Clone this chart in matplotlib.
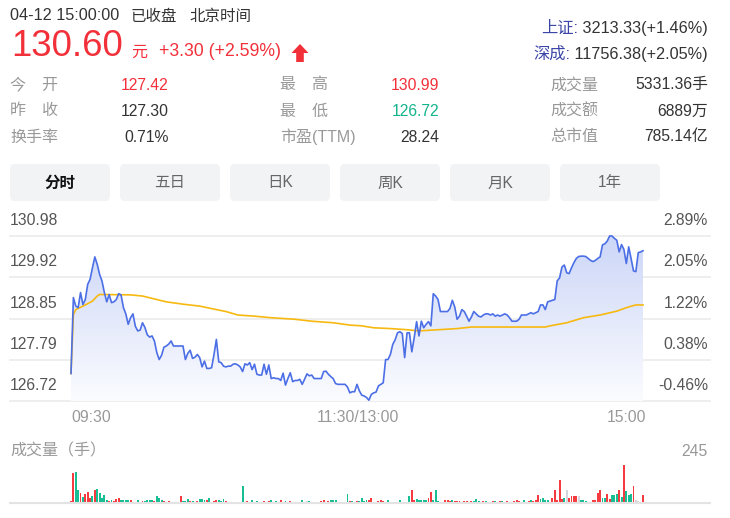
import numpy as np
import matplotlib
matplotlib.use("Agg")
import matplotlib.pyplot as plt
from matplotlib.patches import FancyBboxPatch, Polygon, PathPatch

plt.rcParams['font.family'] = ['Liberation Sans', 'Noto Sans CJK SC']

# ---------------- data ----------------
prev_close = 127.30
prices = [
    127.43, 129.39, 129.17, 129.13, 129.52, 129.21, 129.34, 129.73, 129.86, 130.16,
    130.44, 130.25, 129.99, 129.82, 129.52, 129.28, 129.47, 129.26, 129.28, 129.34,
    129.49, 129.46, 129.13, 128.97, 128.70, 128.87, 128.97, 128.65, 128.53, 128.55,
    128.74, 128.62, 128.43, 128.37, 128.40, 128.27, 127.97, 127.79, 127.90, 128.11,
    128.14, 128.19, 128.27, 128.14, 128.14, 128.14, 128.14, 128.14, 127.79, 127.95,
    128.03, 127.82, 127.85, 127.92, 127.84, 127.60, 127.75, 127.56, 127.56, 127.58,
    127.92, 128.31, 127.73, 127.71, 127.62, 127.60, 127.62, 127.62, 127.67, 127.68,
    127.65, 127.60, 127.48, 127.68, 127.65, 127.71, 127.53, 127.67, 127.41, 127.39,
    127.39, 127.67, 127.41, 127.65, 127.30, 127.32, 127.30, 127.30, 127.25, 127.44,
    127.13, 127.30, 127.45, 127.22, 127.25, 127.25, 127.28, 127.15, 127.28, 127.42,
    127.37, 127.39, 127.30, 127.30, 127.30, 127.30, 127.48, 127.49, 127.41, 127.35,
    127.30, 127.17, 127.15, 127.15, 127.15, 127.15, 127.08, 126.93, 126.96, 126.96,
    127.15, 126.98, 126.87, 126.85, 126.81, 126.74, 126.89, 126.93, 126.95, 127.11,
    127.15, 127.19, 127.79, 127.79, 127.92, 128.18, 128.30, 128.48, 128.51, 128.46,
    127.84, 128.48, 128.48, 127.99, 128.35, 128.77, 128.40, 128.78, 128.61, 128.70,
    128.77, 128.66, 129.49, 129.43, 129.34, 129.03, 129.03, 129.03, 129.03, 129.11,
    129.32, 129.15, 128.83, 128.91, 129.08, 129.03, 128.91, 128.78, 128.89, 129.03,
    128.97, 128.91, 128.89, 128.94, 128.97, 128.97, 128.94, 128.97, 128.91, 128.94,
    128.91, 128.94, 128.97, 128.94, 128.87, 128.78, 128.78, 128.78, 128.83, 128.94,
    128.94, 128.94, 128.97, 129.00, 128.97, 129.00, 129.03, 129.20, 129.20, 129.08,
    129.28, 129.30, 129.32, 129.34, 129.82, 129.90, 130.18, 130.23, 130.03, 130.01,
    130.16, 130.29, 130.40, 130.45, 130.46, 130.46, 130.45, 130.40, 130.35, 130.32,
    130.35, 130.40, 130.44, 130.75, 130.78, 130.85, 130.98, 130.98, 130.92, 130.87,
    130.57, 130.76, 130.63, 130.27, 130.70, 130.40, 130.08, 130.06, 130.55, 130.57,
    130.60,
]

avg_minutes = [0, 1, 2, 6, 9, 11, 12, 25, 30, 34, 40, 47, 54, 61, 65, 70, 77, 84, 94,
               101, 110, 117, 122, 127, 134, 141, 146, 154, 162, 168, 199, 201, 208,
               215, 222, 229, 234, 237, 240]
avg_prices = [127.43, 128.95, 129.08, 129.20, 129.30, 129.43, 129.47, 129.46, 129.43,
              129.37, 129.28, 129.22, 129.17, 129.08, 129.03, 128.94, 128.91, 128.87,
              128.83, 128.78, 128.74, 128.68, 128.66, 128.61, 128.59, 128.56, 128.53,
              128.56, 128.59, 128.63, 128.63, 128.66, 128.74, 128.87, 128.94, 129.04,
              129.15, 129.20, 129.20]

volumes = [
    13, 193, 200, 84, 65, 39, 58, 71, 32, 45,
    84, 90, 65, 32, 52, 19, 13, 19, 13, 26,
    32, 19, 19, 19, 19, 19, 6, 6, 19, 6,
    13, 13, 19, 19, 19, 13, 45, 32, 19, 13,
    6, 13, 6, 6, 6, 6, 45, 13, 13, 26,
    13, 13, 6, 13, 26, 26, 19, 19, 32, 6,
    13, 19, 19, 13, 26, 13, 6, 6, 6, 6,
    6, 6, 110, 6, 13, 6, 19, 6, 13, 6,
    6, 13, 6, 13, 19, 6, 13, 6, 19, 6,
    13, 6, 13, 6, 6, 6, 6, 19, 6, 13,
    13, 6, 6, 6, 6, 13, 19, 6, 13, 19,
    19, 19, 6, 6, 6, 6, 58, 13, 13, 6,
    13, 13, 32, 13, 19, 19, 32, 6, 6, 13,
    19, 13, 6, 19, 6, 6, 6, 6, 19, 6,
    6, 6, 45, 84, 19, 26, 19, 19, 19, 19,
    32, 71, 19, 84, 13, 6, 6, 19, 19, 13,
    19, 13, 13, 13, 6, 13, 13, 6, 13, 13,
    26, 13, 6, 13, 13, 6, 6, 13, 13, 6,
    13, 13, 6, 13, 6, 6, 13, 19, 13, 6,
    19, 6, 13, 19, 13, 19, 52, 26, 32, 19,
    19, 6, 32, 84, 19, 148, 26, 32, 84, 32,
    45, 45, 45, 45, 19, 19, 13, 6, 6, 19,
    19, 65, 84, 32, 32, 58, 26, 52, 52, 58,
    84, 39, 245, 77, 52, 58, 110, 19, 13, 6,
    52,
]
vol_side = list(
    "rrggrgrrrg" "rgggggrgrr" "rggggrrggr" "rggggrgggr" "rrrgnrrggg"
    "rgrrgggrgr" "rrgggrgrrg" "rggrrggrgg" "rrgrgrgrrr" "grrggrgggn"
    "gggnrrrgrg" "gggrgngrgr" "rggggrrrrr" "rrrgrrrrgr" "rrgrrggggg"
    "rrggggrrrr" "grrrgrrgrg" "ggrrgrrrgr" "rgrrgrrrrr" "grrgrrrggg"
    "grrrrrrgnr" "rrrnggggrr" "rrrggrrggg" "rgrgggrnnn" "r"
)
price_ticks = [130.98, 129.92, 128.85, 127.79, 126.72]
pct_ticks = ["2.89%", "2.05%", "1.22%", "0.38%", "-0.46%"]
time_labels = ["09:30", "11:30/13:00", "15:00"]
vol_max = 245
tabs = ["分时", "五日", "日K", "周K", "月K", "1年"]

stats_col1 = [("今\u3000开", "127.42", "up"), ("昨\u3000收", "127.30", "flat"), ("换手率", "0.71%", "flat")]
stats_col2 = [("最\u3000高", "130.99", "up"), ("最\u3000低", "126.72", "down"), ("市盈(TTM)", "28.24", "flat")]
stats_col3 = [("成交量", "5331.36手"), ("成交额", "6889万"), ("总市值", "785.14亿")]
indices = [("上证:", " 3213.33(+1.46%)"), ("深成:", " 11756.38(+2.05%)")]

# ---------------- styling ----------------
RED = "#f2303a"
GREEN = "#13b48c"
DARK = "#333333"
GRAY = "#999999"
BLUE_LINE = "#4c6fe6"
AVG_LINE = "#f7b910"
GRID = "#ebebeb"
side_colors = {"r": "#f53b3f", "g": "#17bd93", "n": "#d3d6dc"}

W, H = 730, 518
fig = plt.figure(figsize=(W / 100, H / 100), dpi=100)
fig.patch.set_facecolor("white")

bg = fig.add_axes([0, 0, 1, 1])
bg.set_xlim(0, W)
bg.set_ylim(H, 0)
bg.axis("off")


def T(x, y, s, px, color, ha="left", va="center", weight="normal", **kw):
    return bg.text(x, y, s, fontsize=px * 0.72, color=color, ha=ha, va=va,
                   fontweight=weight, **kw)


# header
T(10, 16, "04-12 15:00:00", 16.3, DARK)
T(131, 16, "已收盘", 15.5, DARK)
T(189, 16, "北京时间", 15.5, DARK)
T(11, 46, "130.60", 36.5, RED)
T(131, 52, "元", 16, RED)
T(159, 51, "+3.30 (+2.59%)", 17.6, RED)
bg.add_patch(Polygon([(300, 44), (308.5, 53), (303.8, 53), (303.8, 62),
                      (296.2, 62), (296.2, 53), (291.5, 53)], closed=True,
                     facecolor=RED, edgecolor="none"))

renderer = fig.canvas.get_renderer()
for i, (name, val) in enumerate(indices):
    yy = 28 + i * 26
    t = T(708, yy, val, 16.3, DARK, ha="right")
    bb = t.get_window_extent(renderer)
    T(bb.x0, yy, name, 16.3, "#3b45a6", ha="right")

rows_y = [85, 111, 137]
cmap = {"up": RED, "down": GREEN, "flat": DARK}
for i, (lab, val, st) in enumerate(stats_col1):
    T(10, rows_y[i], lab, 16, GRAY)
    T(169, rows_y[i], val, 15.8, cmap[st], ha="right")
for i, (lab, val, st) in enumerate(stats_col2):
    T(280, rows_y[i], lab, 16, GRAY)
    T(439, rows_y[i], val, 15.8, cmap[st], ha="right")
for i, (lab, val) in enumerate(stats_col3):
    T(550, rows_y[i], lab, 16, GRAY)
    T(708, rows_y[i], val, 15.8, DARK, ha="right")

# tabs
for i, name in enumerate(tabs):
    x0 = 10 + i * 110
    bg.add_patch(FancyBboxPatch((x0, 164), 100, 37,
                                boxstyle="round,pad=0,rounding_size=5",
                                facecolor="#f2f3f5", edgecolor="none"))
    if i == 0:
        T(x0 + 50, 183, name, 15.5, "#111111", ha="center", weight="bold")
    else:
        T(x0 + 50, 183, name, 15.5, "#666666", ha="center")

# ---------------- price chart ----------------
X0, X1 = 71, 643
n_span = 240
ppm = (X1 - X0) / n_span
xlim = (-(X0 - 10) / ppm, n_span + (710 - X1) / ppm)
minutes = np.arange(len(prices))

ax = fig.add_axes([10 / W, 1 - 401 / H, 700 / W, 165 / H])
ax.set_xlim(*xlim)
ax.set_ylim(price_ticks[-1], price_ticks[0])
ax.axis("off")

for p, lab, pl in zip(price_ticks, [f"{v:.2f}" for v in price_ticks], pct_ticks):
    ax.axhline(p, color=GRID, lw=1.2, zorder=0, clip_on=False)
    ax.annotate(lab, xy=(0, p), xycoords=("axes fraction", "data"),
                xytext=(0, 15.5 * 0.72), textcoords="offset points",
                ha="left", va="center", fontsize=15.8 * 0.72, color="#555555")
    ax.annotate(pl, xy=(1, p), xycoords=("axes fraction", "data"),
                xytext=(-2 * 0.72, 15.5 * 0.72), textcoords="offset points",
                ha="right", va="center", fontsize=15.8 * 0.72, color="#555555")

poly = ax.fill_between(minutes, prices, price_ticks[-1], facecolor="none",
                       edgecolor="none", lw=0)
path = poly.get_paths()[0]
clip = PathPatch(path, transform=ax.transData, facecolor="none", edgecolor="none")
ax.add_patch(clip)
top_c = np.array([0.80, 0.84, 0.97])
bot_c = np.array([0.985, 0.988, 1.0])
t = np.linspace(0, 1, 256)[:, None]
grad = top_c * (1 - t) + bot_c * t
img = np.repeat(grad[:, None, :], 2, axis=1)
im = ax.imshow(img, extent=[0, minutes[-1], price_ticks[-1], price_ticks[0]],
               aspect="auto", origin="upper", zorder=1, interpolation="bilinear")
im.set_clip_path(clip)
ax.set_xlim(*xlim)
ax.set_ylim(price_ticks[-1], price_ticks[0])

ax.plot(avg_minutes, avg_prices, color=AVG_LINE, lw=1.2, zorder=3, clip_on=False)
ax.plot(minutes, prices, color=BLUE_LINE, lw=1.2, zorder=4, clip_on=False)

# time labels
T(X0, 418, time_labels[0], 15.8, GRAY, ha="left")
T((X0 + X1) / 2 + 1, 418, time_labels[1], 15.8, GRAY, ha="center")
T(X1 + 3, 418, time_labels[2], 15.8, GRAY, ha="right")

# ---------------- volume chart ----------------
T(10, 451, "成交量（手）", 16, GRAY)
T(708, 451, str(vol_max), 15.8, GRAY, ha="right")

vax = fig.add_axes([10 / W, 1 - 503 / H, 700 / W, 38 / H])
vax.set_xlim(*xlim)
vax.set_ylim(0, vol_max)
vax.axis("off")
vcols = [side_colors[s] for s in vol_side[:len(volumes)]]
vcols += [side_colors["n"]] * (len(volumes) - len(vcols))
vax.bar(np.arange(len(volumes)), volumes, width=0.8, color=vcols, linewidth=0)
vax.axhline(0, color="#e3e3e3", lw=1.5, clip_on=False)

fig.savefig("out.png", dpi=100, facecolor="white")
